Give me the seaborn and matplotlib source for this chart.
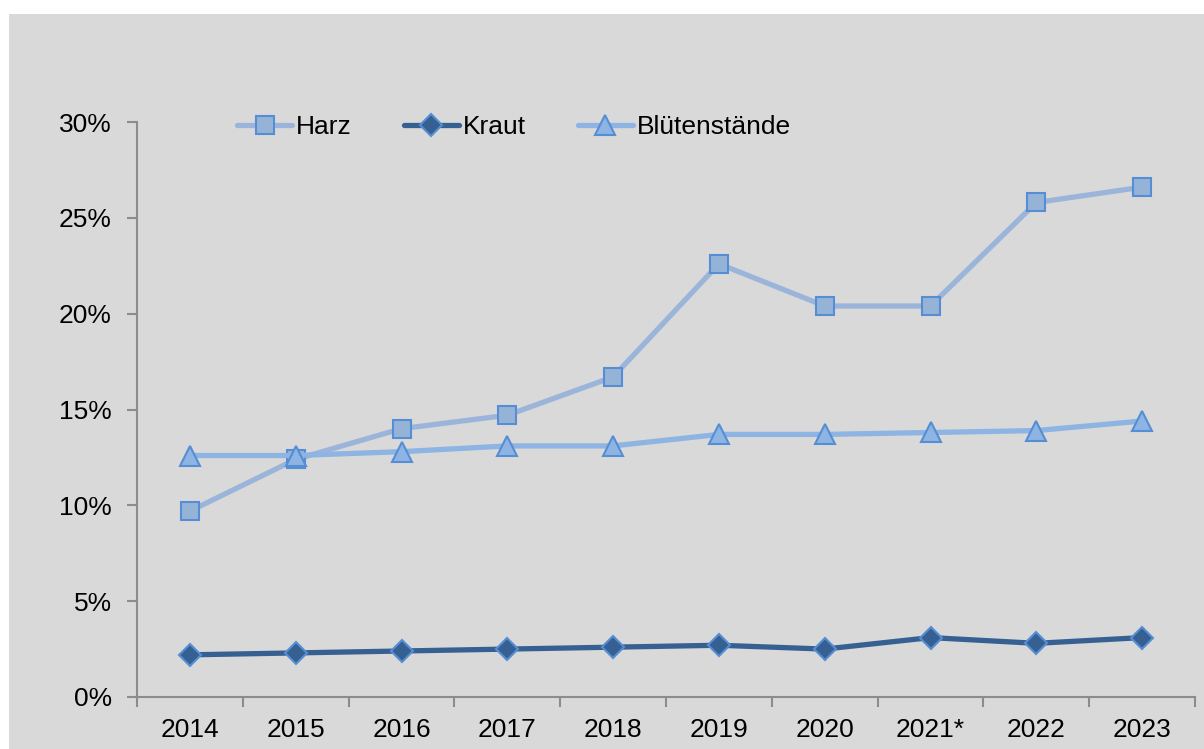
import matplotlib
matplotlib.use("Agg")
import matplotlib.pyplot as plt
import seaborn as sns
import pandas as pd
from matplotlib.patches import Rectangle
from matplotlib.ticker import FixedLocator, PercentFormatter

years = ["2014", "2015", "2016", "2017", "2018", "2019", "2020", "2021*", "2022", "2023"]
harz = [9.7, 12.4, 14.0, 14.7, 16.7, 22.6, 20.4, 20.4, 25.8, 26.6]
kraut = [2.2, 2.3, 2.4, 2.5, 2.6, 2.7, 2.5, 3.1, 2.8, 3.1]
blueten = [12.6, 12.6, 12.8, 13.1, 13.1, 13.7, 13.7, 13.8, 13.9, 14.4]
series_names = ["Harz", "Kraut", "Blütenstände"]
y_ticks = [0, 5, 10, 15, 20, 25, 30]

sns.set_theme(style="white")
plt.rcParams["font.family"] = ["Liberation Sans", "DejaVu Sans"]

FS = 19

fig = plt.figure(figsize=(12.04, 7.49), dpi=100, facecolor="white")
fig.patches.append(Rectangle((9 / 1204, 0), 1 - 9 / 1204, 1 - 14 / 749,
                             transform=fig.transFigure, facecolor="#d9d9d9",
                             edgecolor="none", zorder=-10))
ax = fig.add_axes([137 / 1204, 1 - 697 / 749, (1195 - 137) / 1204, (697 - 122) / 749])
ax.set_facecolor("#d9d9d9")
ax.set_zorder(5)

x = list(range(len(years)))
styles = [
    (harz, dict(color="#9bb5da", marker="s", markersize=13, markerfacecolor="#95b3d7",
                markeredgecolor="#558ed5", markeredgewidth=1.5)),
    (kraut, dict(color="#376092", marker="D", markersize=11, markerfacecolor="#376092",
                 markeredgecolor="#558ed5", markeredgewidth=1.5)),
    (blueten, dict(color="#8db4e2", marker="^", markersize=14, markerfacecolor="#8db4e2",
                   markeredgecolor="#558ed5", markeredgewidth=1.5)),
]
for name, (vals, st) in zip(series_names, styles):
    df = pd.DataFrame({"x": x, "y": vals})
    sns.lineplot(data=df, x="x", y="y", ax=ax, linewidth=3.8, label=name,
                 solid_capstyle="round", **st)

ax.set_xlim(-0.5, len(years) - 0.5)
ax.set_ylim(0, 30)
ax.set_xlabel("")
ax.set_ylabel("")

ax.xaxis.set_major_locator(FixedLocator([i - 0.5 for i in range(len(years) + 1)]))
ax.xaxis.set_minor_locator(FixedLocator(x))
ax.set_xticklabels([], minor=False)
ax.set_xticklabels(years, minor=True)
ax.tick_params(axis="x", which="major", direction="out", length=7, width=1.5,
               color="#8c8c8c", bottom=True)
ax.tick_params(axis="x", which="minor", length=0, pad=15, labelsize=FS,
               labelcolor="black", bottom=True)
ax.set_yticks(y_ticks)
ax.yaxis.set_major_formatter(PercentFormatter(decimals=0))
ax.tick_params(axis="y", direction="out", length=7, width=1.5, color="#8c8c8c",
               pad=11, labelsize=FS, labelcolor="black", left=True)

for side in ["top", "right"]:
    ax.spines[side].set_visible(False)
for side in ["left", "bottom"]:
    ax.spines[side].set_color("#8c8c8c")
    ax.spines[side].set_linewidth(1.5)

leg = ax.legend(loc="center left", bbox_to_anchor=(100 / 1058, 0.991), ncol=3,
                frameon=False, fontsize=FS, handlelength=2.1, handletextpad=0.15,
                columnspacing=1.95, borderpad=0, borderaxespad=0, labelcolor="black")

fig.savefig("out.png", dpi=100, facecolor="white")
